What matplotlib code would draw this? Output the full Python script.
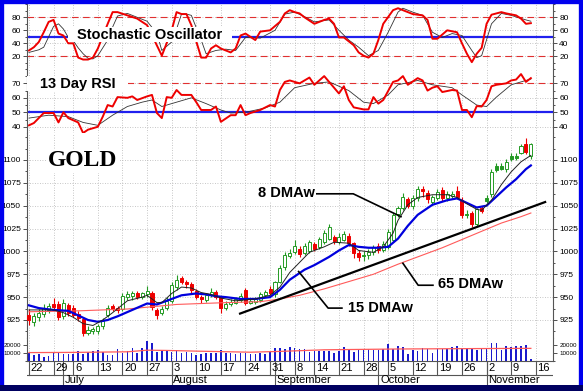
import matplotlib.pyplot as plt
from matplotlib.patches import Rectangle
from matplotlib.ticker import AutoMinorLocator

plt.rcParams['font.family'] = ['Liberation Sans', 'DejaVu Sans']

# --- дневные свечи (индекс = торговый день, 0 = 22 июня) ---
opens = [931, 923, 928, 932, 936, 942, 942, 929, 941, 938, 932, 926, 911, 913, 913, 918, 930, 940, 938, 937,
         950, 951, 955, 950, 953, 955, 936, 933, 938, 946, 961, 971, 966, 964, 957, 950, 947, 952, 956, 950,
         938, 942, 944, 947, 958, 944, 945, 947, 952, 959, 953, 967, 983, 995, 999, 1003, 998, 1000, 1008, 1005,
         1010, 1014, 1016, 1010, 1013, 1017, 1009, 998, 996, 996, 999, 1006, 1002, 1005, 1013, 1041, 1048, 1057, 1050, 1058,
         1068, 1064, 1054, 1058, 1067, 1058, 1061, 1066, 1056, 1041, 1042, 1030, 1047, 1058, 1063, 1093, 1093, 1090, 1104, 1104,
         1108, 1118, 1104]
highs = [937, 933, 937, 942, 944, 949, 946, 948, 944, 941, 935, 928, 918, 917, 921, 927, 941, 943, 940, 955,
         957, 957, 957, 956, 962, 957, 938, 940, 950, 966, 974, 973, 969, 966, 959, 952, 955, 960, 958, 951,
         946, 948, 950, 954, 960, 949, 950, 956, 958, 962, 968, 985, 999, 1003, 1012, 1006, 1009, 1012, 1010, 1016,
         1023, 1030, 1018, 1020, 1022, 1020, 1010, 1001, 1000, 1003, 1007, 1009, 1011, 1024, 1042, 1050, 1064, 1059, 1062, 1072,
         1071, 1067, 1062, 1068, 1070, 1066, 1066, 1071, 1060, 1045, 1044, 1048, 1050, 1062, 1090, 1097, 1097, 1101, 1108, 1108,
         1118, 1124, 1119]
lows = [919, 918, 924, 928, 933, 936, 925, 926, 929, 928, 924, 907, 909, 910, 910, 915, 928, 935, 933, 935,
        947, 947, 948, 948, 950, 936, 926, 931, 936, 944, 958, 964, 960, 955, 948, 944, 945, 950, 948, 933,
        936, 940, 942, 945, 941, 942, 943, 945, 950, 952, 950, 965, 980, 993, 997, 994, 996, 998, 1000, 1003,
        1008, 1012, 1008, 1008, 1011, 1006, 993, 990, 990, 992, 996, 998, 999, 1003, 1010, 1038, 1045, 1047, 1046, 1055,
        1060, 1053, 1051, 1056, 1055, 1055, 1058, 1057, 1037, 1036, 1027, 1028, 1042, 1053, 1060, 1087, 1089, 1087, 1099, 1100,
        1106, 1106, 1101]
closes = [925, 929, 933, 938, 940, 939, 928, 944, 933, 931, 927, 911, 914, 915, 918, 924, 938, 937, 936, 951,
          953, 954, 950, 954, 957, 939, 930, 937, 946, 963, 969, 966, 964, 958, 950, 948, 952, 956, 950, 938,
          943, 945, 948, 951, 944, 946, 948, 953, 956, 954, 966, 982, 996, 998, 1006, 997, 1006, 1010, 1003, 1014,
          1020, 1027, 1011, 1016, 1019, 1009, 998, 994, 995, 999, 1005, 1002, 1008, 1021, 1040, 1047, 1060, 1050, 1058, 1068,
          1066, 1057, 1060, 1065, 1058, 1063, 1063, 1059, 1040, 1040, 1030, 1046, 1044, 1055, 1087, 1089, 1090, 1098, 1101, 1102,
          1115, 1109, 1117]
volumes = [10400, 7500, 8300, 5400, 6250, 10400, 10400, 8300, 8300, 8300, 12900, 8300, 11700, 12500, 13750, 11700, 7500, 7500, 14600, 10400,
           12500, 15800, 10400, 15800, 25000, 22900, 11700, 13750, 12500, 11700, 13750, 10400, 11700, 9600, 7500, 8300, 9600, 10400, 10400, 13750,
           10400, 10400, 8300, 9600, 10400, 8300, 8300, 9600, 8300, 11700, 15800, 15800, 14600, 17100, 15800, 14600, 14600, 11700, 12900, 12900,
           12900, 12900, 10400, 12900, 17100, 14600, 11700, 14600, 14600, 14600, 13750, 13750, 14600, 21250, 14600, 18750, 17100, 8300, 13750, 12900,
           15800, 14600, 10400, 14600, 14600, 14600, 17100, 18750, 15800, 15800, 14600, 13750, 14600, 15800, 22900, 22100, 13750, 18750, 17100, 18750,
           18750, 20000, 2100]

# скользящие средние
ma8_x = [0, 2, 5, 7, 9, 11, 13, 15, 17, 20, 23, 24, 26, 27, 29, 31, 33, 35, 37, 39, 42, 46, 49, 51, 53, 55, 57, 60, 62, 65,
         67, 70, 72, 74, 75, 77, 79, 82, 85, 87, 89, 91, 92, 94, 96, 98, 100, 102]
ma8_y = [936, 936, 936, 933, 928, 921, 919, 925, 933, 946, 950, 952, 944, 944, 954, 961, 960, 955, 953, 949, 946, 948, 952, 961, 977, 988, 999, 1005, 1010, 1009,
         1001, 999, 1005, 1020, 1034, 1051, 1059, 1062, 1062, 1059, 1052, 1046, 1045, 1056, 1073, 1087, 1098, 1105]
ma15_x = [0, 2, 5, 8, 10, 12, 14, 16, 18, 21, 24, 26, 28, 31, 34, 36, 38, 40, 43, 46, 49, 51, 53, 56, 58, 61, 63, 65, 67, 69,
          71, 73, 75, 77, 79, 82, 85, 87, 89, 91, 93, 95, 97, 99, 101, 102]
ma15_y = [941, 938, 936, 935, 930, 925, 923, 925, 929, 936, 943, 942, 946, 952, 954, 953, 951, 950, 948, 948, 950, 958, 969, 980, 985, 994, 1001, 1007, 1005, 1004,
          1004, 1005, 1014, 1028, 1040, 1051, 1056, 1058, 1053, 1048, 1050, 1060, 1070, 1079, 1090, 1094]
ma65_x = [0, 10, 20, 30, 40, 47, 51, 55, 60, 65, 70, 75, 80, 84, 88, 92, 96, 100, 102]
ma65_y = [934, 935, 937, 942, 944, 945, 948, 952, 959, 967, 975, 986, 996, 1004, 1013, 1022, 1031, 1038, 1042]
trend_x = [42.9, 104.9]
trend_y = [932, 1054]

vma_x = [0, 10, 20, 24, 28, 35, 45, 51, 60, 75, 90, 102]
vma_y = [10500, 10800, 11500, 13500, 13200, 12200, 11000, 12000, 14000, 15000, 15500, 15800]

# стохастик
stoch_k_x = [0, 1, 2, 3, 4, 5, 6, 7, 8, 9, 10, 11, 12, 13, 14, 16, 17, 18, 20, 22, 24, 27, 29, 30, 31, 32, 33, 35, 36, 37,
             38, 39, 41, 42, 43, 44, 46, 47, 49, 51, 52, 53, 54, 55, 56, 58, 60, 61, 62, 63, 64, 66, 67, 68, 69, 70, 71, 72, 74, 75,
             76, 77, 78, 80, 81, 82, 83, 85, 87, 88, 89, 90, 91, 92, 93, 94, 96, 97, 99, 100, 101, 102]
stoch_k = [29, 34, 42, 57, 73, 76, 55, 52, 40, 40, 18, 15, 15, 18, 32, 70, 88, 88, 83, 78, 68, 21, 60, 88, 85, 85, 68, 18, 18, 32,
           37, 32, 26, 32, 52, 55, 45, 58, 60, 73, 86, 91, 88, 86, 80, 70, 76, 78, 70, 49, 49, 37, 26, 21, 18, 24, 45, 70, 91, 94,
           91, 88, 85, 83, 76, 47, 47, 60, 57, 40, 24, 11, 24, 33, 70, 84, 88, 86, 83, 78, 70, 71]
stoch_d_x = [0, 2, 3, 4, 5, 6, 7, 8, 9, 10, 11, 12, 13, 14, 16, 17, 18, 20, 22, 24, 26, 27, 29, 30, 31, 32, 33, 35, 36, 38,
             40, 42, 44, 47, 50, 52, 54, 56, 58, 61, 63, 65, 67, 69, 71, 73, 75, 76, 78, 80, 82, 84, 86, 88, 90, 91, 92, 94, 96, 98,
             101, 102]
stoch_d = [26, 30, 34, 50, 66, 70, 62, 49, 44, 33, 24, 17, 16, 21, 45, 65, 82, 86, 80, 74, 55, 29, 42, 62, 85, 85, 83, 45, 24, 29,
           31, 29, 49, 48, 60, 85, 88, 81, 73, 76, 60, 45, 34, 21, 29, 57, 88, 94, 88, 83, 57, 49, 55, 52, 29, 18, 21, 70, 86, 83,
           76, 74]

# RSI 13 дней
rsi_x = [0, 1, 3, 5, 6, 7, 8, 10, 11, 12, 14, 15, 16, 17, 18, 20, 21, 22, 24, 25, 26, 27, 28, 29, 30, 31, 33, 34, 35, 37,
         38, 39, 41, 42, 43, 44, 45, 47, 49, 50, 51, 52, 53, 55, 57, 58, 60, 61, 63, 64, 65, 66, 68, 69, 70, 71, 72, 74, 75, 76,
         77, 79, 80, 81, 82, 83, 84, 86, 87, 88, 89, 90, 91, 92, 93, 94, 95, 97, 98, 99, 100, 101, 102]
rsi = [41, 42.6, 49.5, 49.5, 43, 50, 46, 43, 35.7, 38, 40, 47, 55, 54, 60.5, 60, 61, 58.5, 61, 62, 49.5, 46, 60.5, 60, 65.4, 62, 62, 57, 51.6, 51.6,
       54, 43.4, 48, 48, 55, 48, 49.5, 51.6, 55, 54, 65.4, 71, 72, 70, 74, 69, 75, 71, 63, 68, 58.5, 53.4, 52, 52, 60.5, 56, 58.5, 71, 72, 75,
       69, 73.6, 72, 65, 67, 68, 64, 65.4, 65, 51.6, 51.6, 46.6, 54.3, 54, 58.5, 68, 69, 70, 72, 72.6, 76.4, 71, 73.6]
rsi_s_x = [0, 4, 8, 11, 14, 17, 20, 23, 25, 27, 30, 33, 36, 39, 41, 44, 48, 51, 54, 58, 61, 65, 68, 70, 73, 75, 79, 82, 86, 88,
           91, 93, 95, 98, 101, 102]
rsi_s = [46, 48, 47, 43, 41, 48, 54, 57, 58.5, 54, 57, 60, 56, 51.6, 49.5, 50, 53, 57, 67, 70, 71, 65, 57, 56, 62, 69, 72, 69, 67, 62,
         55, 54, 60.5, 69, 72, 73]

# ось дат
week_pos = [0, 5, 9, 14, 19, 24, 29, 34, 39, 44, 49, 54, 58, 63, 68, 73, 78, 83, 88, 93, 98, 103]
week_labels = ['22', '29', '6', '13', '20', '27', '3', '10', '17', '24', '31', '8', '14', '21', '28', '5', '12', '19', '26',
               '2', '9', '16']
month_pos = [7, 29, 50, 71, 93]
month_labels = ['July', 'August', 'September', 'October', 'November']

W, H = 583, 391
XL = (-0.4, 106.5)
GREEN = '#249a24'
RED = '#ee0000'
BLUE = '#0000dd'

fig = plt.figure(figsize=(W / 100, H / 100), dpi=100)
fig.patch.set_facecolor('white')


def box(top, bottom):
    return [27 / W, 1 - bottom / H, (553 - 27) / W, (bottom - top) / H]


def style(ax, ylim, yticks, size=6):
    ax.set_xlim(XL)
    ax.set_ylim(ylim)
    ax.set_yticks(yticks)
    ax.set_xticks(week_pos)
    ax.yaxis.set_minor_locator(AutoMinorLocator(2))
    ax.tick_params(axis='x', bottom=False, labelbottom=False)
    ax.tick_params(axis='y', which='both', left=True, right=True, labelleft=True, labelright=True,
                   labelsize=size, width=0.6, pad=1.5, colors='#333333', labelcolor='black')
    ax.tick_params(axis='y', which='major', length=3)
    ax.tick_params(axis='y', which='minor', length=1.5)
    ax.grid(True, color='#b4b4b4', linestyle=(0, (1, 2)), linewidth=0.6)
    ax.set_axisbelow(True)
    for s in ['top', 'bottom']:
        ax.spines[s].set_visible(False)
    for s in ['left', 'right']:
        ax.spines[s].set_color('#555555')
        ax.spines[s].set_linewidth(0.8)


# --- стохастик ---
ax_st = fig.add_axes(box(4, 68))
style(ax_st, (2, 100.5), [20, 40, 60, 80])
ax_st.axhline(80, color='#e03030', lw=0.8, dashes=(6, 4))
ax_st.axhline(20, color='#e03030', lw=0.8, dashes=(6, 4))
ax_st.axhline(50, color='#2020ee', lw=1.6)
ax_st.plot(stoch_d_x, stoch_d, color='#333333', lw=0.6)
ax_st.plot(stoch_k_x, stoch_k, color=RED, lw=1.4)
ax_st.add_patch(Rectangle((7.9, 42), 33.4, 23, facecolor='white', edgecolor='none', zorder=5))
ax_st.text(24.6, 53.5, 'Stochastic Oscillator', ha='center', va='center', fontsize=10.5,
           fontweight='bold', zorder=6)

# --- RSI ---
ax_rsi = fig.add_axes(box(68, 133))
style(ax_rsi, (35.7, 80.6), [40, 50, 60, 70])
ax_rsi.axhline(70, color='#e03030', lw=0.8, dashes=(6, 4))
ax_rsi.axhline(50, color='#2020ee', lw=1.6)
ax_rsi.plot(rsi_s_x, rsi_s, color='#333333', lw=0.6)
ax_rsi.plot(rsi_x, rsi, color=RED, lw=1.4)
ax_rsi.add_patch(Rectangle(( -0.4, 64.5), 20.5, 10.5, facecolor='white', edgecolor='none', zorder=5))
ax_rsi.text(2.3, 69.8, '13 Day RSI', ha='left', va='center', fontsize=10.5, fontweight='bold', zorder=6)

# --- цена ---
ax_pr = fig.add_axes(box(133, 338))
style(ax_pr, (905.3, 1129.5), list(range(925, 1101, 25)))
for i, (o, h, l, c) in enumerate(zip(opens, highs, lows, closes)):
    prev = closes[i - 1] if i else o
    col = GREEN if c >= prev else RED
    hollow = c > o
    ax_pr.vlines(i, l, h, color=col, lw=0.8, zorder=2)
    ax_pr.bar(i, max(abs(c - o), 0.8), bottom=min(o, c), width=0.62,
              facecolor='white' if hollow else col, edgecolor=col, linewidth=0.7, zorder=3)
ax_pr.plot(ma65_x, ma65_y, color='#ff5a5a', lw=0.8, zorder=4)
ax_pr.plot(trend_x, trend_y, color='black', lw=1.6, zorder=4)
ax_pr.plot(ma15_x, ma15_y, color=BLUE, lw=1.6, zorder=4)
ax_pr.plot(ma8_x, ma8_y, color='#222222', lw=0.7, zorder=4)

tb = dict(facecolor='white', edgecolor='none', pad=1)
ax_pr.text(3.9, 1099, 'GOLD', family=['Liberation Serif', 'DejaVu Serif'], fontsize=17,
           fontweight='bold', va='center', ha='left', bbox=tb, zorder=6)
ax_pr.plot([58.1, 65.9, 75.6], [1063, 1063, 1038], color='black', lw=1.2, zorder=5)
ax_pr.text(46.5, 1064, '8 DMAw', fontsize=10.5, fontweight='bold', va='center', ha='left', bbox=tb, zorder=6)
ax_pr.plot([54.8, 60.8, 63.6], [978, 938, 938], color='black', lw=1.2, zorder=5)
ax_pr.text(64.8, 938, '15 DMAw', fontsize=10.5, fontweight='bold', va='center', ha='left', bbox=tb, zorder=6)
ax_pr.plot([76, 79.1, 82.1], [987, 963, 963], color='black', lw=1.2, zorder=5)
ax_pr.text(83.1, 964, '65 DMAw', fontsize=10.5, fontweight='bold', va='center', ha='left', bbox=tb, zorder=6)

# --- объём ---
ax_vol = fig.add_axes(box(338, 361))
style(ax_vol, (0, 28750), [10000, 20000], size=4.5)
ax_vol.yaxis.set_minor_locator(AutoMinorLocator(1))
ax_vol.grid(False, axis='y')
ax_vol.bar(range(len(volumes)), volumes, width=0.32, color='#1a1acc', zorder=3)
ax_vol.plot(vma_x, vma_y, color='#ff5a5a', lw=0.9, zorder=4)
ax_vol.spines['bottom'].set_visible(True)
ax_vol.spines['bottom'].set_color('#555555')

# --- ось дат ---
ax_dt = fig.add_axes(box(361, 385))
ax_dt.set_xlim(XL)
ax_dt.set_ylim(0, 1)
ax_dt.axis('off')
ax_dt.axhline(0.42, color='#555555', lw=0.8)
for p, lab in zip(week_pos, week_labels):
    ax_dt.plot([p, p], [1, 0.42], color='#555555', lw=0.8)
    ax_dt.text(p + 0.35, 0.7, lab, fontsize=8, ha='left', va='center')
for p, lab in zip(month_pos, month_labels):
    ax_dt.plot([p, p], [1, 0], color='#555555', lw=0.8)
    ax_dt.text(p + 0.35, 0.2, lab, fontsize=8, ha='left', va='center')

# синяя рамка
fig.add_artist(Rectangle((0, 0), 1, 1, transform=fig.transFigure, fill=False,
                         edgecolor='#0000ee', linewidth=6, zorder=10))
fig.add_artist(Rectangle((0, 0), 1, 6 / H, transform=fig.transFigure, facecolor='#000060',
                         edgecolor='none', zorder=11))

fig.savefig('out.png', dpi=100)
